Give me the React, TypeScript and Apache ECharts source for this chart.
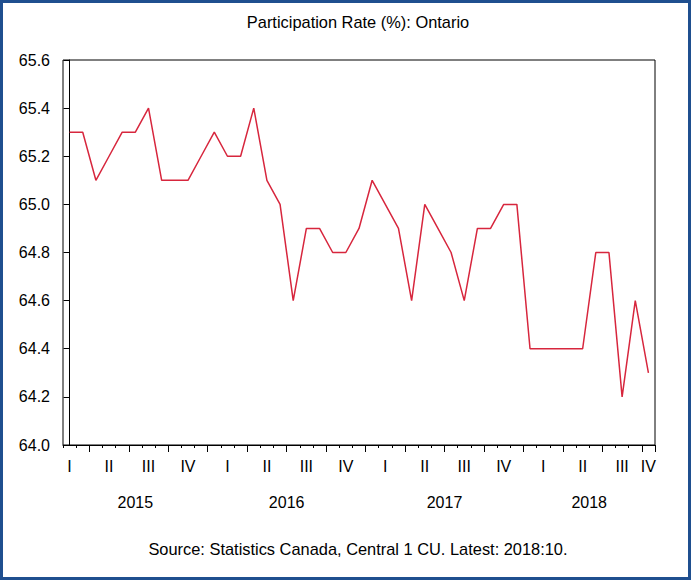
import React, { useEffect, useRef } from "react";
import * as echarts from "echarts";

// Monthly observations, Feb 2015 .. Oct 2018
const months: string[] = [];
for (let y = 2015; y <= 2018; y++) {
  for (let m = 1; m <= 12; m++) {
    if ((y === 2015 && m < 2) || (y === 2018 && m > 10)) continue;
    months.push(`${y}-${String(m).padStart(2, "0")}`);
  }
}

const participationRate = [
  65.3, 65.3, 65.1, 65.2, 65.3, 65.3, 65.4, 65.1, 65.1, 65.1, 65.2,
  65.3, 65.2, 65.2, 65.4, 65.1, 65.0, 64.6, 64.9, 64.9, 64.8, 64.8, 64.9,
  65.1, 65.0, 64.9, 64.6, 65.0, 64.9, 64.8, 64.6, 64.9, 64.9, 65.0, 65.0,
  64.4, 64.4, 64.4, 64.4, 64.4, 64.8, 64.8, 64.2, 64.6, 64.3,
];

const quarterNames = ["I", "II", "III", "IV"];
const years = [2015, 2016, 2017, 2018];

const titleText = "Participation Rate (%): Ontario";
const sourceText = "Source: Statistics Canada, Central 1 CU. Latest: 2018:10.";

const monthOf = (s: string) => parseInt(s.slice(5), 10);
const yearOf = (s: string) => parseInt(s.slice(0, 4), 10);

// centre (in category index units) of each year's visible months
const yearCenters = years.map((yr) => {
  const idx = months.map((m, i) => (yearOf(m) === yr ? i : -1)).filter((i) => i >= 0);
  return (idx[0] + idx[idx.length - 1]) / 2;
});

const FONT = "'Liberation Sans', Arial, sans-serif";

export default function App() {
  const ref = useRef<HTMLDivElement>(null);
  useEffect(() => {
    if (!ref.current) return;
    const chart = echarts.init(ref.current, undefined, { renderer: "svg" });
    const last = months.length - 1;
    const grid = { left: 63, right: 37, top: 60, bottom: 135 };
    chart.setOption({
      animation: false,
      backgroundColor: "#ffffff",
      textStyle: { fontFamily: FONT },
      grid: { ...grid, show: true, borderColor: "#000", borderWidth: 1, backgroundColor: "#fff" },
      xAxis: [
        {
          type: "category",
          data: months,
          boundaryGap: true,
          axisLine: { show: true, lineStyle: { color: "#000", width: 1 } },
          axisTick: { show: true, interval: 0, length: 3, lineStyle: { color: "#000" } },
          axisLabel: {
            show: true,
            interval: (i: number, v: string) => monthOf(v) % 3 === 2 || i === last,
            formatter: (v: string) => quarterNames[Math.floor((monthOf(v) - 1) / 3)],
            color: "#000",
            fontSize: 16,
            fontFamily: FONT,
            margin: 13,
          },
          splitLine: { show: false },
        },
        {
          type: "category",
          data: months,
          boundaryGap: true,
          position: "bottom",
          axisLine: { show: false },
          axisTick: {
            show: true,
            interval: (i: number, v: string) => monthOf(v) % 3 === 1,
            length: 7,
            lineStyle: { color: "#000" },
          },
          axisLabel: { show: false },
          splitLine: { show: false },
        },
        {
          type: "value",
          min: -0.5,
          max: months.length - 0.5,
          position: "bottom",
          axisLine: { show: false },
          axisTick: { show: false },
          splitLine: { show: false },
          axisLabel: {
            show: true,
            customValues: yearCenters,
            formatter: (v: number) => {
              const k = yearCenters.findIndex((c) => Math.abs(c - v) < 1e-6);
              return k >= 0 ? String(years[k]) : "";
            },
            color: "#000",
            fontSize: 16,
            fontFamily: FONT,
            margin: 49,
          },
        },
      ],
      yAxis: {
        type: "value",
        min: 64.0,
        max: 65.6,
        interval: 0.2,
        axisLine: { show: true, lineStyle: { color: "#000", width: 1 } },
        axisTick: { show: true, length: 6, lineStyle: { color: "#000" } },
        axisLabel: {
          formatter: (v: number) => v.toFixed(1),
          color: "#000",
          fontSize: 16,
          fontFamily: FONT,
          margin: 13,
        },
        splitLine: { show: false },
      },
      series: [
        {
          type: "line",
          xAxisIndex: 0,
          data: participationRate,
          showSymbol: false,
          symbol: "none",
          lineStyle: { color: "#d7263d", width: 1.5 },
        },
      ],
      graphic: [
        {
          type: "text",
          style: {
            text: titleText,
            x: 358,
            y: 22,
            textAlign: "center",
            textVerticalAlign: "middle",
            font: `16.4px ${FONT}`,
            fill: "#000",
          },
        },
        {
          type: "text",
          style: {
            text: sourceText,
            x: 358,
            y: 549,
            textAlign: "center",
            textVerticalAlign: "middle",
            font: `16.4px ${FONT}`,
            fill: "#000",
          },
        },
        {
          type: "rect",
          shape: { x: 1.5, y: 1.5, width: 688, height: 577 },
          style: { fill: "none", stroke: "#1f4f8f", lineWidth: 3 },
          silent: true,
          z: 100,
        },
      ],
    });
    return () => chart.dispose();
  }, []);
  return (
    <div
      ref={ref}
      style={{ position: "fixed", left: 0, top: 0, width: 692, height: 580 }}
    />
  );
}
